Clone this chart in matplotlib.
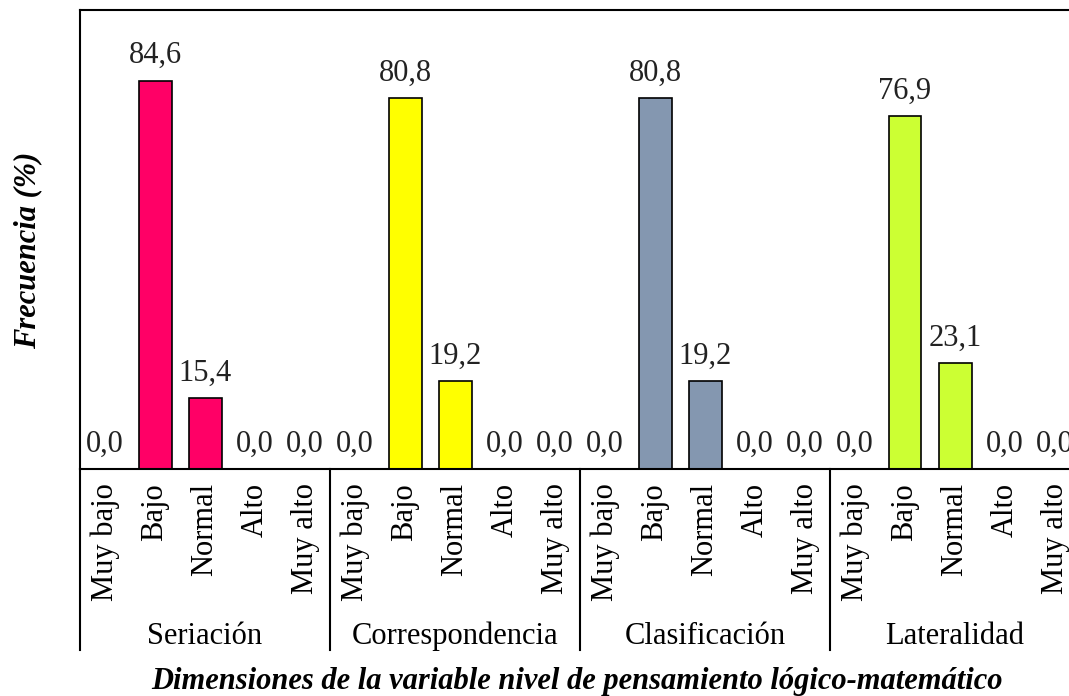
import numpy as np
import matplotlib
matplotlib.use('Agg')
from matplotlib import pyplot as plt
from matplotlib.lines import Line2D

plt.rcParams['font.family'] = ['Liberation Serif', 'DejaVu Serif']

# datos
grupos = ['Seriación', 'Correspondencia', 'Clasificación', 'Lateralidad']
niveles = ['Muy bajo', 'Bajo', 'Normal', 'Alto', 'Muy alto']
seriacion = [0.0, 84.6, 15.4, 0.0, 0.0]
correspondencia = [0.0, 80.8, 19.2, 0.0, 0.0]
clasificacion = [0.0, 80.8, 19.2, 0.0, 0.0]
lateralidad = [0.0, 76.9, 23.1, 0.0, 0.0]
colores = ['#FF0066', '#FFFF00', '#8497B0', '#CCFF33']

series = [seriacion, correspondencia, clasificacion, lateralidad]
fs = 22

fig = plt.figure(figsize=(10.69, 6.96), dpi=100)
ax = fig.add_axes([80 / 1069, 1 - 469 / 696, 1000 / 1069, 459 / 696])

n = len(niveles)
for g, (vals, col) in enumerate(zip(series, colores)):
    x = np.arange(n) + g * n
    bars = ax.bar(x, vals, width=0.66, color=col, edgecolor='black', linewidth=1.2)
    for xi, v in zip(x, vals):
        ax.annotate(('%.1f' % v).replace('.', ','), xy=(xi, v), xytext=(0, 7.5),
                    textcoords='offset points', ha='center', va='bottom',
                    fontsize=fs, color='#222222')
    # etiquetas de nivel
    for xi, nombre in zip(x, niveles):
        ax.annotate(nombre, xy=(xi, 0), xycoords=('data', 'axes fraction'),
                    xytext=(0, -14), textcoords='offset pixels',
                    rotation=90, ha='center', va='top', fontsize=fs)
    # nombre del grupo
    ax.annotate(grupos[g], xy=(g * n + 2, 0), xycoords=('data', 'axes fraction'),
                xytext=(0, -167), textcoords='offset pixels',
                ha='center', va='center', fontsize=fs)
    # separador
    sep = Line2D([g * n - 0.5, g * n - 0.5], [0, -181 / 459], color='black',
                 linewidth=1.5, transform=ax.get_xaxis_transform(), clip_on=False)
    ax.add_line(sep)

ax.set_xlim(-0.5, 4 * n - 0.5)
ax.set_ylim(0, 100)
ax.set_xticks([])
ax.set_yticks([])
for s in ax.spines.values():
    s.set_linewidth(1.5)

fig.text(28 / 1069, 1 - 250 / 696, 'Frecuencia (%)', rotation=90, ha='center', va='center',
         fontsize=fs, fontweight='bold', fontstyle='italic')
fig.text(577 / 1069, 1 - 681 / 696,
         'Dimensiones de la variable nivel de pensamiento lógico-matemático',
         ha='center', va='center', fontsize=22, fontweight='bold', fontstyle='italic')

fig.savefig('out.png', dpi=100)
